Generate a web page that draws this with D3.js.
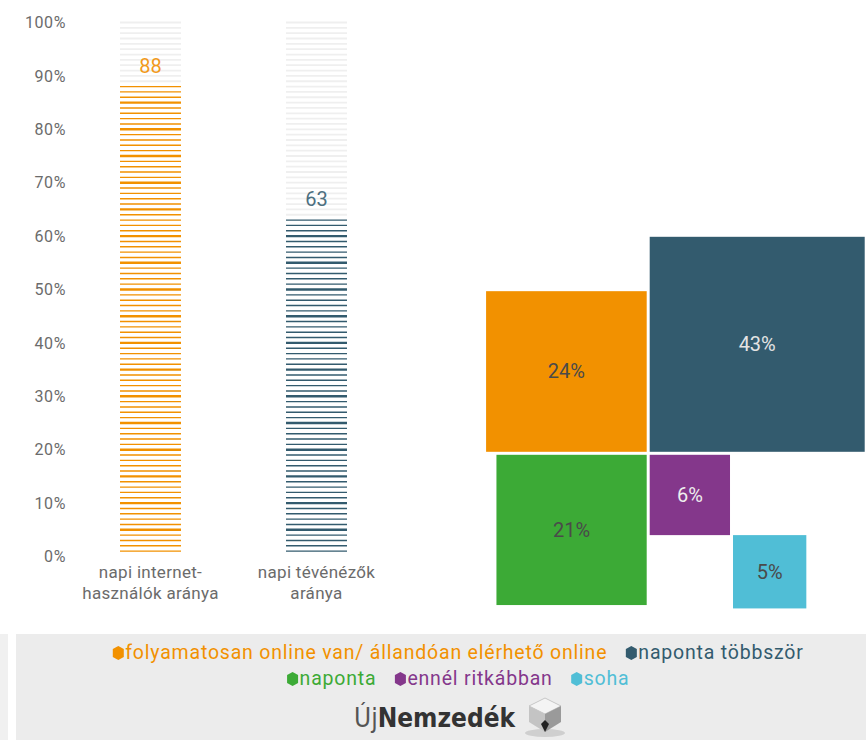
<!DOCTYPE html>
<html>
<head>
<meta charset="utf-8">
<script src="https://cdn.jsdelivr.net/npm/d3@7"></script>
<style>
  body { margin: 0; background: #fff; }
  svg { font-family: Roboto, "DejaVu Sans", sans-serif; }
</style>
</head>
<body>
<svg width="866" height="740"></svg>
<script>
// adatok
const barCategories = [["napi internet-", "használók aránya"], ["napi tévénézők", "aránya"]];
const barValues = [88, 63];
const barColors = ["#f29100", "#335b6e"];
const yTicks = [0, 10, 20, 30, 40, 50, 60, 70, 80, 90, 100];

const shareLabels = ["folyamatosan online van/ állandóan elérhető online", "naponta többször", "naponta", "ennél ritkábban", "soha"];
const shareValues = [24, 43, 21, 6, 5];
const shareColors = ["#f29100", "#335b6e", "#3caa36", "#84378b", "#50bed6"];
const shareTextColors = ["#4a4a4a", "#e4e4e4", "#4a4a4a", "#eeeeee", "#4a4a4a"];

const svg = d3.select("svg");

// ---- bal oldali oszlopdiagram (vonalakból)
const y = d3.scaleLinear().domain([0, 100]).range([556.5, 22.5]);
const x = d3.scaleBand()
    .domain(d3.range(barValues.length))
    .range([120, 347])
    .paddingInner(0.6325)
    .paddingOuter(0);

const yAxis = svg.append("g")
    .attr("transform", "translate(66,0)")
    .call(d3.axisLeft(y).tickValues(yTicks).tickSize(0).tickPadding(0).tickFormat(d => d + "%"));
yAxis.select(".domain").remove();
yAxis.selectAll("text")
    .style("font-family", "Roboto, sans-serif")
    .style("font-size", "16px")
    .style("letter-spacing", "0.6px")
    .attr("fill", "#6b6b6b");

const bars = svg.selectAll("g.bar")
    .data(barValues)
    .enter()
    .append("g")
    .attr("class", "bar");

bars.each(function (v, i) {
    const g = d3.select(this);
    const steps = d3.range(1, 101);
    g.selectAll("line")
        .data(steps)
        .enter()
        .append("line")
        .attr("x1", x(i))
        .attr("x2", x(i) + x.bandwidth())
        .attr("y1", d => y(d))
        .attr("y2", d => y(d))
        .attr("stroke", d => d <= v ? barColors[i] : "#efefef")
        .attr("stroke-width", d => d <= v ? (d % 5 === 0 ? 2.4 : 1.4) : 1.8);

    g.append("text")
        .attr("x", x(i) + x.bandwidth() / 2)
        .attr("y", y(v) - 14)
        .attr("text-anchor", "middle")
        .attr("fill", i === 0 ? "#f29a1a" : "#4d6f80")
        .style("font-size", "20px")
        .text(v);

    g.append("text")
        .attr("x", x(i) + x.bandwidth() / 2)
        .attr("y", 578)
        .attr("text-anchor", "middle")
        .attr("fill", "#6b6b6b")
        .style("font-size", "17px")
        .style("letter-spacing", "0.3px")
        .selectAll("tspan")
        .data(barCategories[i])
        .enter()
        .append("tspan")
        .attr("x", x(i) + x.bandwidth() / 2)
        .attr("dy", (d, k) => k === 0 ? 0 : 21)
        .text(d => d);
});

// ---- jobb oldali négyzetek
const side = d3.scaleSqrt().domain([0, 43]).range([0, 215]);
const cx = 648.2, cy = 453.3, gap = 1.5;

const rects = shareValues.map((v, i) => {
    const s = side(v);
    let rx, ry;
    if (i === 0) { rx = cx - gap - s; ry = cy - gap - s; }
    else if (i === 1) { rx = cx + gap; ry = cy - gap - s; }
    else if (i === 2) { rx = cx - gap - s; ry = cy + gap; }
    else if (i === 3) { rx = cx + gap; ry = cy + gap; }
    else {
        const p = side(shareValues[3]);
        rx = cx + gap + p + 3; ry = cy + gap + p;
    }
    return {v: v, s: s, x: rx, y: ry, i: i};
});

const sq = svg.selectAll("g.sq")
    .data(rects)
    .enter()
    .append("g")
    .attr("class", "sq");

sq.append("rect")
    .attr("x", d => d.x)
    .attr("y", d => d.y)
    .attr("width", d => d.s)
    .attr("height", d => d.s)
    .attr("fill", d => shareColors[d.i]);

sq.append("text")
    .attr("x", d => d.x + d.s / 2)
    .attr("y", d => d.y + d.s / 2 + 7)
    .attr("text-anchor", "middle")
    .attr("fill", d => shareTextColors[d.i])
    .style("font-size", "20px")
    .text(d => d.v + "%");

// ---- jelmagyarázat
svg.append("rect").attr("x", 0).attr("y", 634).attr("width", 8).attr("height", 106).attr("fill", "#f0f0f0");
svg.append("rect").attr("x", 16).attr("y", 634).attr("width", 850).attr("height", 106).attr("fill", "#ececec");

const hex = function (g, color) {
    const pts = [[0, -7], [5.5, -4], [5.5, 4], [0, 7], [-5.5, 4], [-5.5, -4]];
    g.append("path")
        .attr("d", d3.line()(pts) + "Z")
        .attr("fill", color);
};

const legendRows = [[0, 1], [2, 3, 4]];
const legendY = [659, 685];
const legendCenter = 458;

legendRows.forEach(function (row, r) {
    const g = svg.append("g");
    let cur = 0;
    row.forEach(function (k) {
        const item = g.append("g").attr("transform", "translate(" + cur + ",0)");
        hex(item.append("g").attr("transform", "translate(6,-6)"), shareColors[k]);
        const t = item.append("text")
            .attr("x", 13)
            .attr("y", 0)
            .attr("fill", shareColors[k])
            .style("font-family", "Roboto, sans-serif")
            .style("font-size", "19.5px")
            .style("letter-spacing", "0.8px")
            .text(shareLabels[k]);
        cur += 13 + t.node().getComputedTextLength() + 18;
    });
    cur -= 18;
    g.attr("transform", "translate(" + (legendCenter - cur / 2) + "," + legendY[r] + ")");
});

// ---- logó
const logo = svg.append("g").attr("transform", "translate(354,727)");
const lt = logo.append("text")
    .attr("fill", "#333")
    .style("font-family", "'DejaVu Sans Condensed', 'Liberation Sans Narrow', sans-serif")
    .style("font-size", "26px");
lt.append("tspan").attr("fill", "#555").text("Új");
lt.append("tspan").attr("font-weight", "bold").text("Nemzedék");

const cube = svg.append("g").attr("transform", "translate(545,716)");
cube.append("ellipse").attr("cx", 0).attr("cy", 17).attr("rx", 20).attr("ry", 4).attr("fill", "#cfcfcf");
cube.append("path").attr("d", "M-16,-10 L0,-18 L16,-10 L0,-2 Z").attr("fill", "#f4f4f4").attr("stroke", "#bbb").attr("stroke-width", 0.8);
cube.append("path").attr("d", "M-16,-10 L0,-2 L0,16 L-16,6 Z").attr("fill", "#c4c4c4");
cube.append("path").attr("d", "M16,-10 L0,-2 L0,16 L16,6 Z").attr("fill", "#9a9a9a");
cube.append("path").attr("d", "M-4,8 L0,16 L4,8 L0,4 Z").attr("fill", "#222");
</script>
</body>
</html>
